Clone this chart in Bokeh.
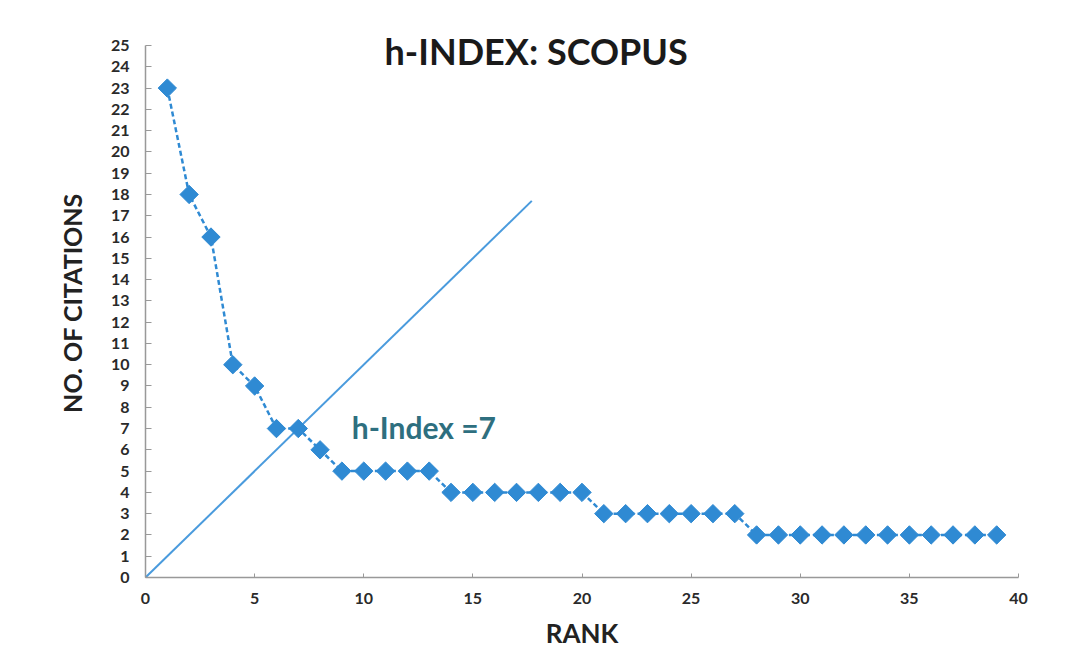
import math
from bokeh.plotting import figure
from bokeh.models import Range1d, Label, FixedTicker, Title
from bokeh.embed import file_html
from bokeh.resources import INLINE

# Data
rank = list(range(1, 40))
citations = [23, 18, 16, 10, 9, 7, 7, 6, 5, 5, 5, 5, 5,
             4, 4, 4, 4, 4, 4, 4,
             3, 3, 3, 3, 3, 3, 3,
             2, 2, 2, 2, 2, 2, 2, 2, 2, 2, 2, 2]
diag_x = [0, 17.7]
diag_y = [0, 17.7]
x_ticks = [0, 5, 10, 15, 20, 25, 30, 35, 40]
y_ticks = list(range(0, 26))
h_index = 7

BLUE = "#2F8AD3"
FONT = "Lato"

p = figure(width=1049, height=656, output_backend="svg", toolbar_location=None,
           x_range=Range1d(0, 40), y_range=Range1d(0, 25.8),
           min_border_left=145, min_border_right=31, min_border_top=28,
           min_border_bottom=78)
p.outline_line_color = None
p.xgrid.grid_line_color = None
p.ygrid.grid_line_color = None

# diagonal line y = x
p.line(diag_x, diag_y, line_color="#4A9BDD", line_width=2)

# citations series
p.line(rank, citations, line_color=BLUE, line_width=2.5, line_dash="5 3")
p.scatter(rank, citations, marker="square", angle=math.pi / 4, size=13,
          fill_color=BLUE, line_color=BLUE, line_width=1)

# axes
p.xaxis.ticker = FixedTicker(ticks=x_ticks)
p.yaxis.ticker = FixedTicker(ticks=y_ticks)
p.yaxis.bounds = (0, 25)
for ax in (p.xaxis[0], p.yaxis[0]):
    ax.axis_line_color = "#999999"
    ax.axis_line_width = 1.5
    ax.major_tick_line_color = "#999999"
    ax.minor_tick_line_color = None
    ax.major_label_text_font = FONT
    ax.major_label_text_font_style = "bold"
    ax.major_label_text_color = "#2a2a2a"
    ax.major_label_text_font_size = "16px"
    ax.axis_label_text_font = FONT
    ax.axis_label_text_font_style = "bold"
    ax.axis_label_text_color = "#222222"
    ax.axis_label_text_font_size = "25px"

p.yaxis.major_tick_in = 6
p.yaxis.major_tick_out = 0
p.yaxis.major_label_standoff = 16
p.yaxis.axis_label = "NO. OF CITATIONS"
p.yaxis.axis_label_standoff = 21

p.xaxis.major_tick_in = 4
p.xaxis.major_tick_out = 0
p.xaxis.major_label_standoff = 15

# x axis title, slightly left of centre as in the reference
p.add_layout(Title(text="RANK", align="center", offset=-59, standoff=16,
                   text_font=FONT, text_font_style="bold",
                   text_font_size="26px", text_color="#222222"), "below")

# chart title inside plot area
p.add_layout(Label(x=17.9, y=24.75, text="h-INDEX: SCOPUS", text_align="center",
                   text_baseline="middle", text_font=FONT, text_font_style="bold",
                   text_font_size="36px", text_color="#1a1a1a"))

# annotation
p.add_layout(Label(x=9.45, y=7.05, text="h-Index =" + str(h_index), text_align="left",
                   text_baseline="middle", text_font=FONT, text_font_style="bold",
                   text_font_size="30px", text_color="#2E6F7F"))

open("out.html", "w").write(file_html(p, INLINE))
